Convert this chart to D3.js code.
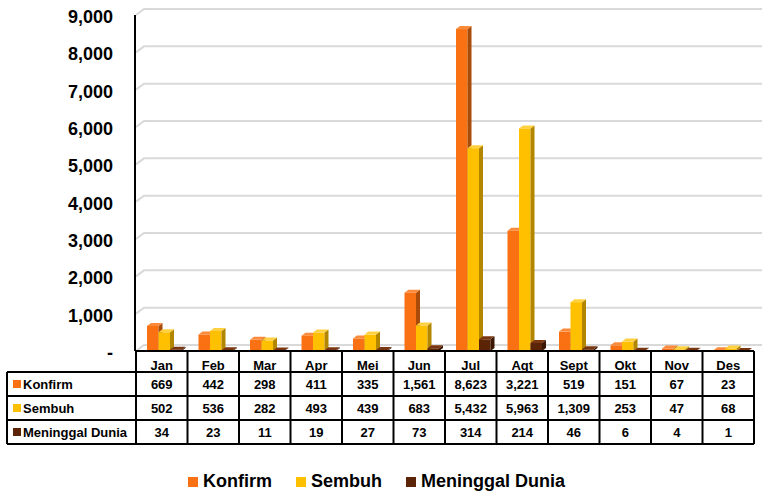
<!DOCTYPE html>
<html>
<head>
<meta charset="utf-8">
<script src="https://cdnjs.cloudflare.com/ajax/libs/d3/7.8.5/d3.min.js"></script>
<style>
  body { margin: 0; background: #fff; }
  svg { display: block; font-family: "Liberation Sans", Arial, sans-serif; font-weight: bold; }
</style>
</head>
<body>
<svg id="chart" width="762" height="493"></svg>
<script>
// monthly data
const months = ["Jan", "Feb", "Mar", "Apr", "Mei", "Jun", "Jul", "Agt", "Sept", "Okt", "Nov", "Des"];
const konfirm = [669, 442, 298, 411, 335, 1561, 8623, 3221, 519, 151, 67, 23];
const sembuh = [502, 536, 282, 493, 439, 683, 5432, 5963, 1309, 253, 47, 68];
const meninggal = [34, 23, 11, 19, 27, 73, 314, 214, 46, 6, 4, 1];
const seriesNames = ["Konfirm", "Sembuh", "Meninggal Dunia"];
const yTicks = [0, 1000, 2000, 3000, 4000, 5000, 6000, 7000, 8000, 9000];

const series = [
  { name: seriesNames[0], values: konfirm, front: "#F97112", side: "#A94C0A", top: "#FB8A3A" },
  { name: seriesNames[1], values: sembuh, front: "#FFC000", side: "#B38600", top: "#FFD040" },
  { name: seriesNames[2], values: meninggal, front: "#5C2406", side: "#3A1603", top: "#7A3610" }
];

const svg = d3.select("#chart");

const plotLeft = 136, plotRight = 754;
const y = d3.scaleLinear().domain([0, 9000]).range([351, 15]);
const x = d3.scaleBand().domain(months).range([plotLeft, plotRight]);
const xs = d3.scaleBand().domain(seriesNames).range([11, 45.5]);

// wall depth
const wdx = 8, wdy = 6;
// bar depth
const bdx = 4, bdy = 3;

// gridlines on the back wall
const grid = svg.append("g");
yTicks.forEach(t => {
  grid.append("path")
    .attr("d", `M${plotLeft},${y(t)}L${plotLeft + wdx},${y(t) - wdy}L762,${y(t) - wdy}`)
    .attr("fill", "none")
    .attr("stroke", "#D9D9D9")
    .attr("stroke-width", 2);
});

// bars
const bars = svg.append("g");
series.forEach(s => {
  s.values.forEach((v, i) => {
    const x0 = x(months[i]) + xs(s.name);
    const x1 = x0 + xs.bandwidth();
    const yt = y(v), yb = y(0);
    const g = bars.append("g");
    g.append("rect")
      .attr("x", x0).attr("y", yt)
      .attr("width", x1 - x0).attr("height", yb - yt)
      .attr("fill", s.front);
    g.append("path")
      .attr("d", `M${x1},${yt}L${x1 + bdx},${yt - bdy}L${x1 + bdx},${yb - bdy}L${x1},${yb}Z`)
      .attr("fill", s.side);
    g.append("path")
      .attr("d", `M${x0},${yt}L${x0 + bdx},${yt - bdy}L${x1 + bdx},${yt - bdy}L${x1},${yt}Z`)
      .attr("fill", s.top);
  });
});

// y axis
svg.append("line")
  .attr("x1", plotLeft - 1).attr("x2", plotLeft - 1)
  .attr("y1", y(9000)).attr("y2", y(0))
  .attr("stroke", "#000").attr("stroke-width", 2);

svg.append("g").selectAll("text")
  .data(yTicks)
  .join("text")
  .attr("x", 113)
  .attr("y", d => y(d) + 2)
  .attr("text-anchor", "end")
  .attr("dominant-baseline", "central")
  .attr("font-size", 18)
  .text(d => d === 0 ? "-" : d3.format(",")(d));

// data table
const table = svg.append("g");
const tLeft = 7, rowTop = 372, rowH = 24, headTop = 351;
const tBottom = rowTop + rowH * 3;
const line = (x1, y1, x2, y2) => table.append("line")
  .attr("x1", x1).attr("y1", y1).attr("x2", x2).attr("y2", y2)
  .attr("stroke", "#000").attr("stroke-width", 2);

line(plotLeft - 1, headTop, plotRight, headTop);
for (let r = 0; r <= 3; r++) line(tLeft, rowTop + r * rowH, plotRight, rowTop + r * rowH);
line(tLeft, rowTop, tLeft, tBottom);
months.forEach(m => line(x(m), headTop, x(m), tBottom));
line(plotRight, headTop, plotRight, tBottom);

table.selectAll("text.month")
  .data(months)
  .join("text")
  .attr("class", "month")
  .attr("x", d => x(d) + x.bandwidth() / 2)
  .attr("y", 370)
  .attr("text-anchor", "middle")
  .attr("font-size", 13)
  .text(d => d);

series.forEach((s, r) => {
  const base = rowTop + r * rowH + 17;
  table.append("rect")
    .attr("x", 13).attr("y", rowTop + r * rowH + 8)
    .attr("width", 8).attr("height", 8)
    .attr("fill", s.front);
  table.append("text")
    .attr("x", 23).attr("y", base)
    .attr("font-size", 13)
    .text(s.name);
  table.selectAll(null)
    .data(s.values)
    .join("text")
    .attr("x", (d, i) => x(months[i]) + x.bandwidth() / 2)
    .attr("y", base)
    .attr("text-anchor", "middle")
    .attr("font-size", 13)
    .text(d => d3.format(",")(d));
});

// legend
const legendX = [188, 296, 406];
const legend = svg.append("g");
series.forEach((s, i) => {
  legend.append("rect")
    .attr("x", legendX[i]).attr("y", 477)
    .attr("width", 10).attr("height", 10)
    .attr("fill", s.front);
  legend.append("text")
    .attr("x", legendX[i] + 15).attr("y", 487)
    .attr("font-size", 18)
    .text(s.name);
});
</script>
</body>
</html>
